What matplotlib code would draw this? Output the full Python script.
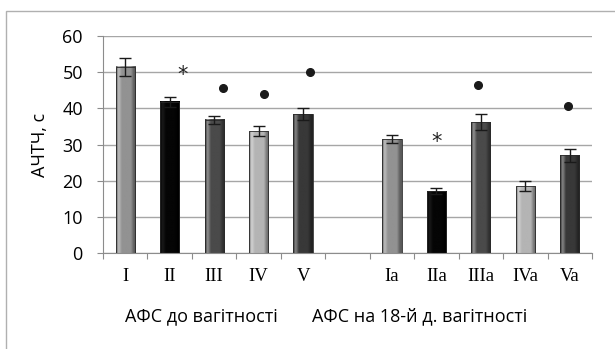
import matplotlib
matplotlib.use("Agg")
import matplotlib.pyplot as plt
import numpy as np
from matplotlib.patches import Rectangle
from matplotlib.colors import LinearSegmentedColormap

categories = ["I", "II", "III", "IV", "V", "", "Ia", "IIa", "IIIa", "IVa", "Va"]
values = [51.5, 41.8, 36.8, 33.7, 38.4, None, 31.5, 17.1, 36.2, 18.5, 27.0]
errors = [2.5, 1.3, 1.1, 1.3, 1.6, None, 1.0, 0.8, 2.1, 1.3, 1.8]
base_colors = ["#929292", "#050505", "#4a4a4a", "#b4b4b4", "#383838", None,
               "#929292", "#050505", "#4a4a4a", "#b4b4b4", "#383838"]
marker_types = [None, "*", "o", "o", "o", None, None, "*", "o", None, "o"]
marker_values = [None, 49.2, 45.6, 44.0, 50.0, None, None, 30.6, 46.4, None, 40.6]
marker_dx = [0, 0.28, 0.2, 0.12, 0.15, 0, 0, 0.0, -0.06, 0, -0.03]
group_labels = ["АФС до вагітності", "АФС на 18-й д. вагітності"]
y_label = "АЧТЧ, с"

fig = plt.figure(figsize=(6.15, 3.49), dpi=100)
fig.patch.set_facecolor("white")
fig.patches.append(Rectangle((6/615, -0.1), 1.2, 1 - 11.5/349 + 0.1, transform=fig.transFigure,
                             fill=False, edgecolor="#b0b0b0", linewidth=1.0))

ax = fig.add_axes([103/615, 1 - 253/349, 489/615, (253 - 36)/349])
ax.set_xlim(-0.5, len(categories) - 0.5)
ax.set_ylim(0, 60)
ax.set_yticks(np.arange(0, 61, 10))
ax.yaxis.grid(True, color="#a6a6a6", linewidth=1.0)
ax.set_axisbelow(True)
for s in ["top", "right"]:
    ax.spines[s].set_visible(False)
ax.spines["left"].set_color("#8c8c8c")
ax.spines["bottom"].set_color("#8c8c8c")

width = 0.43

def shade(c):
    rgb = np.array(matplotlib.colors.to_rgb(c))
    dark = rgb * 0.6
    light = np.clip(rgb + (1 - rgb) * 0.4, 0, 1)
    if rgb.max() < 0.05:
        light = np.array([0.1, 0.1, 0.1])
        dark = np.array([0.0, 0.0, 0.0])
    stops = [(0.0, dark), (0.12, light), (0.3, rgb), (0.75, rgb), (0.9, dark * 1.1), (1.0, dark)]
    return LinearSegmentedColormap.from_list("g", [(p, tuple(np.clip(col, 0, 1))) for p, col in stops])

for i, (v, e, c) in enumerate(zip(values, errors, base_colors)):
    if v is None:
        continue
    grad = np.linspace(0, 1, 64).reshape(1, -1)
    ax.imshow(grad, cmap=shade(c), aspect="auto", extent=(i - width/2, i + width/2, 0, v),
              zorder=2, interpolation="bilinear")
    ax.add_patch(Rectangle((i - width/2, 0), width, v, fill=False, edgecolor="#2a2a2a",
                           linewidth=0.6, zorder=3))
    ax.errorbar(i, v, yerr=e, fmt="none", ecolor="#1a1a1a", elinewidth=1.0,
                capsize=4, capthick=1.0, zorder=4)

for i, (m, mv) in enumerate(zip(marker_types, marker_values)):
    if m is None:
        continue
    x = i + marker_dx[i]
    if m == "*":
        ax.text(x, mv, "*", ha="center", va="center", fontsize=15, color="#222222",
                family="DejaVu Sans", zorder=5)
    else:
        ax.plot(x, mv, "o", color="#1a1a1a", markersize=5.5, zorder=5)

ax.set_xticks(np.arange(-0.5, len(categories), 1.0))
ax.set_xticklabels([])
ax.set_xticks(np.arange(len(categories)), minor=True)
ax.set_xticklabels(categories, minor=True, family="Liberation Serif", fontsize=13.5)
ax.tick_params(axis="x", which="major", length=4.5, color="#8c8c8c", direction="out")
ax.tick_params(axis="x", which="minor", length=0, pad=11)
ax.tick_params(axis="y", length=4.5, color="#8c8c8c", labelsize=13, pad=10)
for t in ax.get_yticklabels():
    t.set_family("Open Sans")
ax.set_ylim(0, 60)

fig.text(40/615, 1 - 145/349, y_label, rotation=90, ha="center", va="center",
         family="Open Sans", fontsize=13)

fig.text(201/615, 1 - 316/349, group_labels[0], ha="center", va="center",
         family="Open Sans", fontsize=13)
fig.text(420/615, 1 - 316/349, group_labels[1], ha="center", va="center",
         family="Open Sans", fontsize=13)

fig.savefig("out.png", dpi=100)
